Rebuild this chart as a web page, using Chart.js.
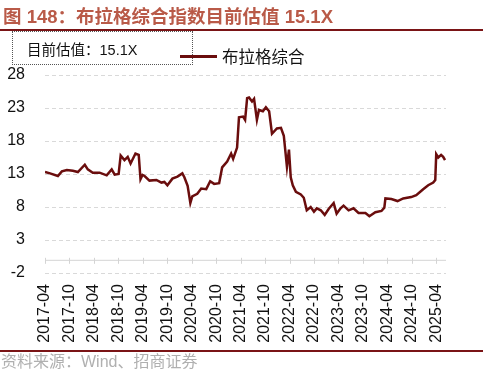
<!DOCTYPE html>
<html>
<head>
<meta charset="utf-8">
<script src="https://cdn.jsdelivr.net/npm/chart.js@4"></script>
<style>
  body { margin: 0; width: 483px; height: 370px; position: relative; overflow: hidden; background: #fff;
         font-family: "Liberation Sans", "Noto Sans CJK SC", sans-serif; }
  div { line-height: 1; }
  #title { position: absolute; left: 3px; top: 8px; font-size: 18.5px; font-weight: bold; color: #b95a48; white-space: nowrap; }
  .rule { position: absolute; left: 0; width: 483px; height: 2px; background: #7a1416; }
  #box { position: absolute; left: 12px; top: 31px; width: 181px; height: 34px; border: 1px dotted #555; box-sizing: border-box; }
  #boxText { position: absolute; left: 27px; top: 43px; font-size: 14.5px; color: #111; white-space: nowrap; }
  #legLine { position: absolute; left: 180px; top: 55px; width: 37px; height: 3px; background: #6a0d0d; }
  #legText { position: absolute; left: 222px; top: 49px; font-size: 16.5px; color: #111; white-space: nowrap; }
  #source { position: absolute; left: 1px; top: 354px; font-size: 16px; color: #b0b0b0; white-space: nowrap; }
  #wrap { position: absolute; left: 0; top: 0; width: 483px; height: 370px; }
</style>
</head>
<body>
<div id="wrap"><canvas id="myChart" width="483" height="370"></canvas></div>
<div id="title">图 148：布拉格综合指数目前估值 15.1X</div>
<div class="rule" style="top:29px"></div>
<div id="box"></div>
<div id="boxText">目前估值：15.1X</div>
<div id="legLine"></div>
<div id="legText">布拉格综合</div>
<div class="rule" style="top:350px"></div>
<div id="source">资料来源：Wind、招商证券</div>
<script>
const dates = [
  "2017-04-01", "2017-05-08", "2017-07-06", "2017-08-05", "2017-09-12", "2017-10-26", "2017-12-03",
  "2018-01-24", "2018-02-16", "2018-03-23", "2018-05-13", "2018-07-05", "2018-08-12", "2018-09-04",
  "2018-10-03", "2018-10-18", "2018-11-16", "2018-12-10", "2019-01-01", "2019-02-07", "2019-03-01",
  "2019-03-14", "2019-03-29", "2019-04-14", "2019-05-20", "2019-07-11", "2019-08-18", "2019-09-10",
  "2019-10-02", "2019-11-09", "2019-12-16", "2020-01-22", "2020-02-07", "2020-03-01", "2020-03-21",
  "2020-04-05", "2020-05-12", "2020-06-11", "2020-07-18", "2020-08-17", "2020-09-16", "2020-10-23",
  "2020-11-15", "2020-12-22", "2021-01-21", "2021-02-06", "2021-03-05", "2021-03-19", "2021-04-19",
  "2021-05-04", "2021-05-19", "2021-06-03", "2021-06-25", "2021-07-10", "2021-08-01", "2021-08-16",
  "2021-09-15", "2021-10-07", "2021-11-01", "2021-11-22", "2021-12-28", "2022-01-28", "2022-02-19",
  "2022-03-12", "2022-03-27", "2022-04-10", "2022-04-25", "2022-05-18", "2022-06-24", "2022-07-16",
  "2022-08-08", "2022-09-07", "2022-10-01", "2022-10-22", "2022-11-21", "2022-12-20", "2023-01-19",
  "2023-02-26", "2023-03-18", "2023-04-17", "2023-05-09", "2023-06-16", "2023-07-22", "2023-08-29",
  "2023-10-20", "2023-11-19", "2024-01-03", "2024-02-18", "2024-03-09", "2024-03-17", "2024-05-01",
  "2024-06-16", "2024-07-28", "2024-09-27", "2024-11-04", "2024-12-25", "2025-02-02", "2025-03-09",
  "2025-03-24", "2025-04-01", "2025-04-16", "2025-05-07", "2025-05-22", "2025-06-06"
];
const values = [
  13.3, 13.1, 12.7, 13.4, 13.6, 13.5, 13.3,
  14.4, 13.7, 13.2, 13.2, 12.8, 13.7, 12.9,
  13.0, 15.8, 15.1, 15.6, 14.6, 16.1, 15.9,
  12.2, 12.85, 12.7, 12.0, 12.1, 11.7, 11.8,
  11.3, 12.3, 12.6, 13.1, 12.5, 11.2, 8.6,
  9.6, 10.0, 10.8, 10.7, 11.9, 11.5, 11.6,
  14.0, 14.9, 16.1, 15.3, 17.0, 21.6, 21.7,
  21.2, 24.5, 24.6, 24.0, 24.4, 21.2, 22.7,
  22.5, 23.1, 22.5, 19.1, 19.9, 20.0, 18.8,
  14.1, 16.7, 12.5, 11.3, 10.3, 9.9, 9.4,
  7.5, 8.0, 7.3, 7.8, 7.5, 6.8, 7.7,
  8.6, 7.0, 7.8, 8.2, 7.5, 7.8, 7.1,
  7.1, 6.6, 7.2, 7.4, 7.9, 9.3, 9.2,
  8.9, 9.3, 9.5, 9.8, 10.7, 11.3, 11.7,
  12.1, 16.0, 15.5, 15.9, 15.6, 15.1
];
const yTicks = [-2, 3, 8, 13, 18, 23, 28];
const seriesName = "布拉格综合";

// months counted from 2017-04
function toMonths(d) {
  const p = d.split("-").map(Number);
  return (p[0] - 2017) * 12 + (p[1] - 4) + (p[2] - 1) / 30;
}
function monthLabel(m) {
  const total = 2017 * 12 + 3 + Math.round(m);
  const y = Math.floor(total / 12);
  const mo = total % 12 + 1;
  return y + "-" + String(mo).padStart(2, "0");
}

const points = dates.map((d, i) => ({ x: toMonths(d), y: values[i] }));

// x axis line drawn at y = 0, like the original
const zeroAxis = {
  id: "zeroAxis",
  afterDatasetsDraw(chart) {
    const { ctx, scales } = chart;
    const y0 = scales.y.getPixelForValue(0);
    ctx.save();
    ctx.strokeStyle = "#d4d4d4";
    ctx.lineWidth = 1;
    ctx.beginPath();
    ctx.moveTo(chart.chartArea.left, y0 + 0.5);
    ctx.lineTo(chart.chartArea.right, y0 + 0.5);
    scales.x.ticks.forEach(t => {
      const x = Math.round(scales.x.getPixelForValue(t.value)) + 0.5;
      ctx.moveTo(x, y0 - 2);
      ctx.lineTo(x, y0 + 4);
    });
    ctx.stroke();
    ctx.restore();
  }
};

new Chart(document.getElementById("myChart"), {
  type: "line",
  data: {
    datasets: [{
      label: seriesName,
      data: points,
      borderColor: "#6a0d0d",
      borderWidth: 2.5,
      pointRadius: 0,
      tension: 0,
      fill: false
    }]
  },
  options: {
    responsive: false,
    animation: false,
    layout: { padding: { top: 75, right: 37, left: 0, bottom: 0 } },
    plugins: { legend: { display: false }, tooltip: { enabled: false } },
    scales: {
      x: {
        type: "linear",
        min: 0,
        max: 98.4,
        afterFit: s => { s.height = 97; },
        grid: { display: false, drawTicks: false },
        border: { display: false },
        afterBuildTicks: s => { s.ticks = []; for (let v = 0; v <= 96; v += 6) s.ticks.push({ value: v }); },
        ticks: {
          autoSkip: false,
          maxRotation: 90,
          minRotation: 90,
          padding: 11,
          color: "#111",
          font: { family: "Liberation Sans", size: 16 },
          callback: v => monthLabel(v)
        }
      },
      y: {
        min: -2,
        max: 28,
        afterFit: s => { s.width = 45; },
        afterBuildTicks: s => { s.ticks = yTicks.map(v => ({ value: v })); },
        grid: { color: "#d9d9d9", drawTicks: false, lineWidth: 1 },
        border: { display: false, dash: [4, 3] },
        ticks: {
          padding: 20,
          color: "#111",
          font: { family: "Liberation Sans", size: 16 }
        }
      }
    }
  },
  plugins: [zeroAxis]
});
</script>
</body>
</html>
